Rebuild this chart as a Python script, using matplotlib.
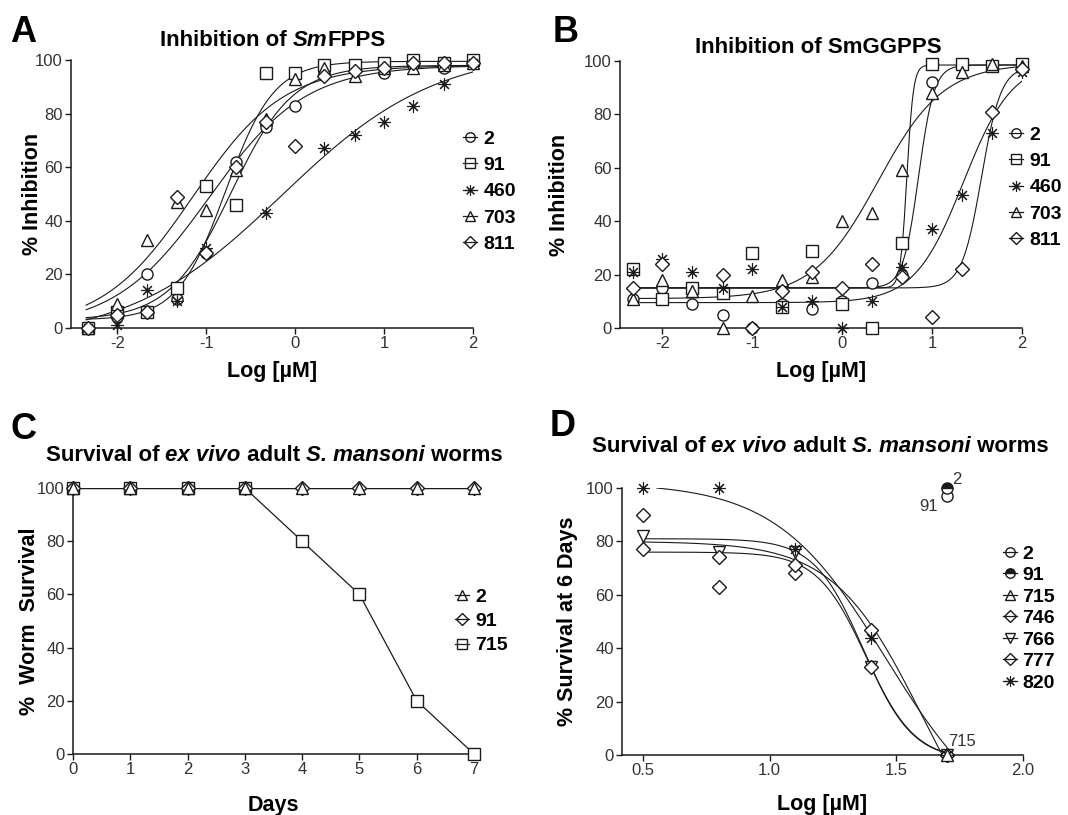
import numpy as np
import matplotlib.pyplot as plt
from matplotlib.lines import Line2D

plt.rcParams['font.family'] = ['Liberation Sans', 'DejaVu Sans']
plt.rcParams['axes.unicode_minus'] = False

# Panel A - inhibition of SmFPPS, % inhibition at each log [uM]
log_conc = [-2.33, -2.0, -1.67, -1.33, -1.0, -0.67, -0.33, 0.0, 0.33, 0.67, 1.0, 1.33, 1.67, 2.0]
fpps_2 = [0, 4, 20, 11, 28, 62, 75, 83, 96, 97, 95, 98, 97, 99]
fpps_91 = [0, 6, 6, 15, 53, 46, 95, 95, 98, 98, 99, 100, 99, 100]
fpps_460 = [0, 1, 14, 10, 30, np.nan, 43, np.nan, 67, 72, 77, 83, 91, 99]
fpps_703 = [0, 9, 33, 47, 44, 59, 78, 93, 97, 94, 97, 97, 98, 99]
fpps_811 = [0, 5, 6, 49, 28, 60, 77, 68, 94, 96, 97, 99, 99, 99]
# fitted curves: bottom, top, logIC50, hill
fpps_fit_2 = [0, 98, -0.96, 0.81]
fpps_fit_91 = [3, 99.5, -0.78, 1.6]
fpps_fit_460 = [-5, 104, -0.15, 0.5]
fpps_fit_703 = [0, 98, -1.15, 0.85]
fpps_fit_811 = [3, 98, -0.72, 1.25]

# Panel B - inhibition of SmGGPPS
ggpps_2 = [11, 15, 9, 5, 0, 9, 7, 10, 17, 20, 92, 99, 98, 99]
ggpps_91 = [22, 11, 15, 13, 28, 8, 29, 9, 0, 32, 99, 99, 98, 99]
ggpps_460 = [21, 26, 21, 15, 22, 8, 10, 0, 10, 23, 37, 50, 73, 96]
ggpps_703 = [11, 18, 14, 0, 12, 18, 19, 40, 43, 59, 88, 96, 99, 98]
ggpps_811 = [15, 24, np.nan, 20, 0, 14, 21, 15, 24, 19, 4, 22, 81, 97]
ggpps_fit_2 = [15, 98.5, 0.85, 5]
ggpps_fit_91 = [15, 98.5, 0.72, 12]
ggpps_fit_460 = [9.5, 100, 1.35, 1.6]
ggpps_fit_703 = [11, 99, 0.4, 1.2]
ggpps_fit_811 = [15, 98, 1.55, 4]

# Panel C - worm survival over time
days = [0, 1, 2, 3, 4, 5, 6, 7]
surv_2 = [100, 100, 100, 100, 100, 100, 100, 100]
surv_91 = [100, 100, 100, 100, 100, 100, 100, 100]
surv_715 = [100, 100, 100, 100, 80, 60, 20, 0]

# Panel D - survival at 6 days vs log [uM]
log_dose = [0.5, 0.8, 1.1, 1.4, 1.7]
day6_2 = [97]
day6_91 = [100]
day6_715 = [0]
day6_746 = [90, 63, 68, 47, 0]
day6_766 = [82, 76, 76, 33, 0]
day6_777 = [77, 74, 71, 33, 0]
day6_820 = [100, 100, 77, 44, 0]
# decreasing fits: top, bottom, logIC50, hill
day6_fit_746 = [80, -50, 1.6, 2.5]
day6_fit_766 = [81, -2, 1.37, 4.5]
day6_fit_777 = [76, -2, 1.38, 4.5]
day6_fit_820 = [102, -30, 1.46, 2.0]


def rise(x, p):
    b, t, ic, h = p
    return b + (t - b) / (1 + 10 ** (h * (ic - x)))


def fall(x, p):
    t, b, ic, h = p
    y = b + (t - b) / (1 + 10 ** (h * (x - ic)))
    return np.where(y > 100, np.nan, y)


INK = '#1a1a1a'
mk_circle = dict(marker='o', ms=8)
mk_square = dict(marker='s', ms=8)
mk_star = dict(marker=(8, 2, 0), ms=9, mew=0.8)
mk_tri = dict(marker='^', ms=8)
mk_diam = dict(marker='D', ms=7)
mk_tridown = dict(marker='v', ms=8)
mk_half = dict(marker='o', ms=8, fillstyle='top', mfc=INK, mfcalt='white')


def points(ax, x, y, mk):
    st = dict(mfc='white', mec=INK, mew=1.0)
    st.update(mk)
    ax.plot(x, y, ls='none', clip_on=False, zorder=3, **st)


def handle(mk):
    st = dict(mfc='none', mec=INK, mew=1.0)
    st.update(mk)
    st['ms'] = st['ms'] * 0.85
    return Line2D([0], [0], color=INK, lw=0.9, **st)


def style(ax):
    for s in ['top', 'right']:
        ax.spines[s].set_visible(False)
    for s in ['left', 'bottom']:
        ax.spines[s].set_linewidth(1.1)
        ax.spines[s].set_color(INK)
    ax.tick_params(direction='out', length=4, width=1, labelsize=12,
                   colors=INK, labelcolor='#333333', pad=2)


W, H = 1068, 815
fig = plt.figure(figsize=(W / 100, H / 100), dpi=100)
lab = dict(fontsize=15.5, fontweight='bold', color='black')
leg = dict(size=14, weight='bold')

# ---------- A ----------
ax = fig.add_axes([71 / W, 1 - 328 / H, 402 / W, 268 / H])
style(ax)
xs = np.linspace(-2.35, 2.0, 300)
series_a = [(fpps_2, fpps_fit_2, mk_circle, '2'),
            (fpps_91, fpps_fit_91, mk_square, '91'),
            (fpps_460, fpps_fit_460, mk_star, '460'),
            (fpps_703, fpps_fit_703, mk_tri, '703'),
            (fpps_811, fpps_fit_811, mk_diam, '811')]
for y, p, mk, name in series_a:
    ax.plot(xs, rise(xs, p), color=INK, lw=0.8)
    points(ax, log_conc, y, mk)
ax.set_xlim(-2.52, 2.0)
ax.set_ylim(0, 100)
ax.set_xticks([-2, -1, 0, 1, 2])
ax.set_yticks(range(0, 101, 20))
ax.set_xlabel('Log [\u00b5M]', **lab)
ax.set_ylabel('% Inhibition', **lab)
ax.xaxis.set_label_coords(0.5, -0.123)
ax.yaxis.set_label_coords(-0.07, 0.5)
ax.legend([handle(s[2]) for s in series_a], [s[3] for s in series_a],
          loc='upper left', bbox_to_anchor=(463 / W, 1 - 130 / H),
          bbox_transform=fig.transFigure, frameon=False, prop=leg,
          handlelength=0.7, handletextpad=0.35, labelspacing=0.45,
          borderpad=0, borderaxespad=0)

# ---------- B ----------
ax = fig.add_axes([620 / W, 1 - 328 / H, 402 / W, 267 / H])
style(ax)
series_b = [(ggpps_2, ggpps_fit_2, mk_circle, '2'),
            (ggpps_91, ggpps_fit_91, mk_square, '91'),
            (ggpps_460, ggpps_fit_460, mk_star, '460'),
            (ggpps_703, ggpps_fit_703, mk_tri, '703'),
            (ggpps_811, ggpps_fit_811, mk_diam, '811')]
for y, p, mk, name in series_b:
    ax.plot(xs, rise(xs, p), color=INK, lw=0.8)
    points(ax, log_conc, y, mk)
ax.set_xlim(-2.47, 2.0)
ax.set_ylim(0, 100)
ax.set_xticks([-2, -1, 0, 1, 2])
ax.set_yticks(range(0, 101, 20))
ax.set_xlabel('Log [\u00b5M]', **lab)
ax.set_ylabel('% Inhibition', **lab)
ax.xaxis.set_label_coords(0.5, -0.123)
ax.yaxis.set_label_coords(-0.125, 0.5)
ax.legend([handle(s[2]) for s in series_b], [s[3] for s in series_b],
          loc='upper left', bbox_to_anchor=(1009 / W, 1 - 126 / H),
          bbox_transform=fig.transFigure, frameon=False, prop=leg,
          handlelength=0.7, handletextpad=0.35, labelspacing=0.45,
          borderpad=0, borderaxespad=0)

# ---------- C ----------
ax = fig.add_axes([73 / W, 1 - 754 / H, 401 / W, 266 / H])
style(ax)
series_c = [(surv_715, mk_square, '715'), (surv_91, mk_diam, '91'), (surv_2, mk_tri, '2')]
for y, mk, name in series_c:
    ax.plot(days, y, color=INK, lw=0.9)
    points(ax, days, y, mk)
ax.set_xlim(0, 7)
ax.set_ylim(0, 100)
ax.set_xticks(days)
ax.set_yticks(range(0, 101, 20))
ax.set_xlabel('Days', **lab)
ax.set_ylabel('%  Worm  Survival', **lab)
ax.xaxis.set_label_coords(0.5, -0.154)
ax.yaxis.set_label_coords(-0.082, 0.5)
order = [2, 1, 0]
ax.legend([handle(series_c[i][1]) for i in order], [series_c[i][2] for i in order],
          loc='upper left', bbox_to_anchor=(455 / W, 1 - 588 / H),
          bbox_transform=fig.transFigure, frameon=False, prop=leg,
          handlelength=0.7, handletextpad=0.35, labelspacing=0.35,
          borderpad=0, borderaxespad=0)

# ---------- D ----------
ax = fig.add_axes([622 / W, 1 - 755 / H, 401 / W, 267 / H])
style(ax)
xd = np.linspace(0.5, 1.7, 200)
series_d = [(day6_746, day6_fit_746, mk_diam),
            (day6_766, day6_fit_766, mk_tridown),
            (day6_777, day6_fit_777, mk_diam),
            (day6_820, day6_fit_820, mk_star)]
for y, p, mk in series_d:
    ax.plot(xd, fall(xd, p), color=INK, lw=0.8)
    points(ax, log_dose, y, mk)
points(ax, log_dose[-1:], day6_715, mk_tri)
points(ax, log_dose[-1:], day6_2, mk_circle)
points(ax, log_dose[-1:], day6_91, mk_half)
ax.text(1.72, 103, '2', fontsize=12, color='#333333', va='center', ha='left')
ax.text(1.665, 93, '91', fontsize=12, color='#333333', va='center', ha='right')
ax.text(1.705, 5, '715', fontsize=12, color='#333333', va='center', ha='left')
ax.set_xlim(0.417, 2.0)
ax.set_ylim(0, 100)
ax.set_xticks([0.5, 1.0, 1.5, 2.0])
ax.set_xticklabels(['0.5', '1.0', '1.5', '2.0'])
ax.set_yticks(range(0, 101, 20))
ax.set_xlabel('Log [\u00b5M]', **lab)
ax.set_ylabel('% Survival at 6 Days', **lab)
ax.xaxis.set_label_coords(0.5, -0.146)
ax.yaxis.set_label_coords(-0.11, 0.5)
d_handles = [handle(mk_circle), handle(mk_half), handle(mk_tri), handle(mk_diam),
             handle(mk_tridown), handle(mk_diam), handle(mk_star)]
d_labels = ['2', '91', '715', '746', '766', '777', '820']
ax.legend(d_handles, d_labels,
          loc='upper left', bbox_to_anchor=(1003 / W, 1 - 545 / H),
          bbox_transform=fig.transFigure, frameon=False, prop=leg,
          handlelength=0.7, handletextpad=0.3, labelspacing=0.2,
          borderpad=0, borderaxespad=0)

# ---------- titles with italic pieces ----------
renderer = fig.canvas.get_renderer()


def text_width(s, size, italic):
    a = fig.text(0, 0, '|' + s + '|', fontsize=size, fontweight='bold',
                 style='italic' if italic else 'normal')
    b = fig.text(0, 0, '||', fontsize=size, fontweight='bold',
                 style='italic' if italic else 'normal')
    w = a.get_window_extent(renderer).width - b.get_window_extent(renderer).width
    a.remove()
    b.remove()
    return w


def rich_title(xc, baseline, parts, size=16):
    widths = [text_width(s, size, it) for s, it in parts]
    x = xc - sum(widths) / 2
    for (s, it), w in zip(parts, widths):
        fig.text(x / W, 1 - baseline / H, s, fontsize=size, fontweight='bold',
                 style='italic' if it else 'normal', va='baseline', ha='left')
        x += w


rich_title(273, 46, [('Inhibition of ', False), ('Sm', True), ('FPPS', False)])
rich_title(818, 53, [('Inhibition of SmGGPPS', False)])
rich_title(274, 461, [('Survival of ', False), ('ex vivo', True), (' adult ', False),
                      ('S. mansoni', True), (' worms', False)])
rich_title(820, 452, [('Survival of ', False), ('ex vivo', True), (' adult ', False),
                      ('S. mansoni', True), (' worms', False)])

for letter, x, y in [('A', 10, 42), ('B', 553, 42), ('C', 10, 439), ('D', 550, 436)]:
    fig.text(x / W, 1 - y / H, letter, fontsize=26, fontweight='bold', va='baseline')

fig.savefig('out.png', dpi=100)
